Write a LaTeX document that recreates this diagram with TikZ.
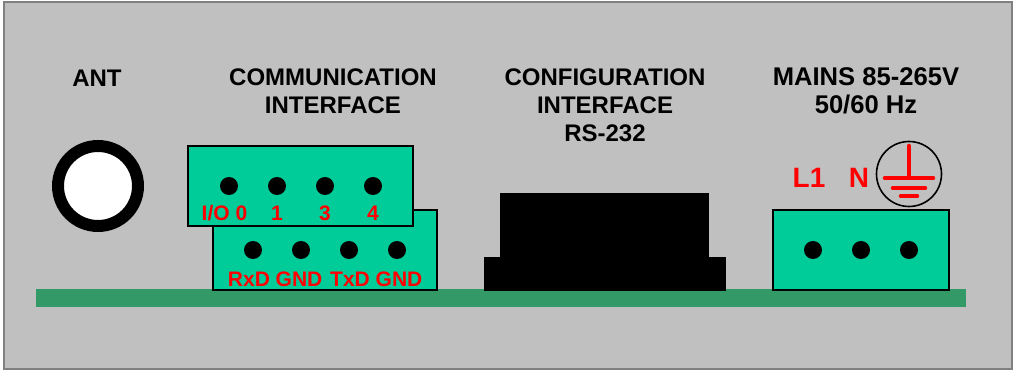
\documentclass[tikz,border=0pt]{standalone}
\usepackage{fontspec}
\setmainfont{Liberation Sans}
\usepackage{tikz}
\usetikzlibrary{positioning}
\definecolor{panelgray}{HTML}{C0C0C0}
\definecolor{framegray}{HTML}{808080}
\definecolor{pcbgreen}{HTML}{339966}
\definecolor{termgreen}{HTML}{00CC99}
\tikzset{
  heading/.style={font=\bfseries\fontsize{24}{28}\selectfont,align=center,inner sep=0pt,black},
  terminal/.style={draw=black,line width=1.8pt,fill=termgreen,inner sep=0pt},
  pin/.style={circle,fill=black,inner sep=0pt,minimum size=18pt},
  pinlabel/.style={font=\bfseries\fontsize{21}{21}\selectfont,text=red,inner sep=0pt},
  mainslabel/.style={font=\bfseries\fontsize{28}{28}\selectfont,text=red,inner sep=0pt},
  earthline/.style={draw=red,line width=3.4pt,line cap=round},
}
\begin{document}
\begin{tikzpicture}[x=1pt,y=-1pt]
  \useasboundingbox (0,0) rectangle (1014,371);
  \node[draw=framegray,line width=1.5pt,fill=panelgray,inner sep=0pt,minimum width=1008pt,minimum height=367pt] (panel) at (508,185.5) {};
  \node[fill=pcbgreen,inner sep=0pt,minimum width=930pt,minimum height=18pt] (pcb) at (501,298) {};

  \node[heading] (ant)  at (97,78)   {ANT};
  \node[heading] (comm) at (333,91)  {COMMUNICATION\\INTERFACE};
  \node[heading] (conf) at (605,105) {CONFIGURATION\\INTERFACE\\RS-232};
  \node[heading,font=\bfseries\fontsize{25.6}{28}\selectfont] (mains) at (866,91) {MAINS 85-265V\\50/60 Hz};

  \node[circle,draw=black,line width=12pt,fill=white,inner sep=0pt,minimum size=80pt] (antenna) at (98,186) {};

  % communication terminals
  \node[terminal,minimum width=224pt,minimum height=80pt] (lower) at (325,250) {};
  \node[terminal,minimum width=225pt,minimum height=80pt] (upper) at (300.5,186) {};
  \node[pin] (u0) at (229,186) {};
  \node[pin] (u1) at (277,186) {};
  \node[pin] (u3) at (325,186) {};
  \node[pin] (u4) at (373,186) {};
  \node[pin] (l0) at (253,250) {};
  \node[pin] (l1) at (301,250) {};
  \node[pin] (l2) at (349,250) {};
  \node[pin] (l3) at (397,250) {};
  \node[pinlabel] (tio)  at (224.5,213) {I/O 0};
  \node[pinlabel] (t1)   at (277,213) {1};
  \node[pinlabel] (t3)   at (325,213) {3};
  \node[pinlabel] (t4)   at (373,213) {4};
  \node[pinlabel] (trxd) at (249,279) {RxD};
  \node[pinlabel] (tg1)  at (299,279) {GND};
  \node[pinlabel] (ttxd) at (350,279) {TxD};
  \node[pinlabel] (tg2)  at (399,279) {GND};

  % RS-232 connector
  \node[fill=black,inner sep=0pt,minimum width=209pt,minimum height=70pt] (dsub) at (604.5,228) {};
  \node[fill=black,inner sep=0pt,minimum width=242pt,minimum height=34pt] (flange) at (605,274) {};

  % mains terminal
  \node[terminal,minimum width=176pt,minimum height=80pt] (mainsbox) at (861,250) {};
  \node[pin] (m1) at (813,250) {};
  \node[pin] (m2) at (861,250) {};
  \node[pin] (m3) at (909,250) {};
  \node[mainslabel] (l1lab) at (809,178) {L1};
  \node[mainslabel] (nlab)  at (859,178) {N};
  \node[circle,draw=black,line width=1.6pt,inner sep=0pt,minimum size=65pt] (earth) at (909,174) {};
  \draw[earthline] (909,145.5) -- (909,178);
  \draw[earthline] (884.5,178) -- (933.5,178);
  \draw[earthline] (892.5,188) -- (925.5,188);
  \draw[earthline] (900.5,196) -- (917.5,196);
\end{tikzpicture}
\end{document}
